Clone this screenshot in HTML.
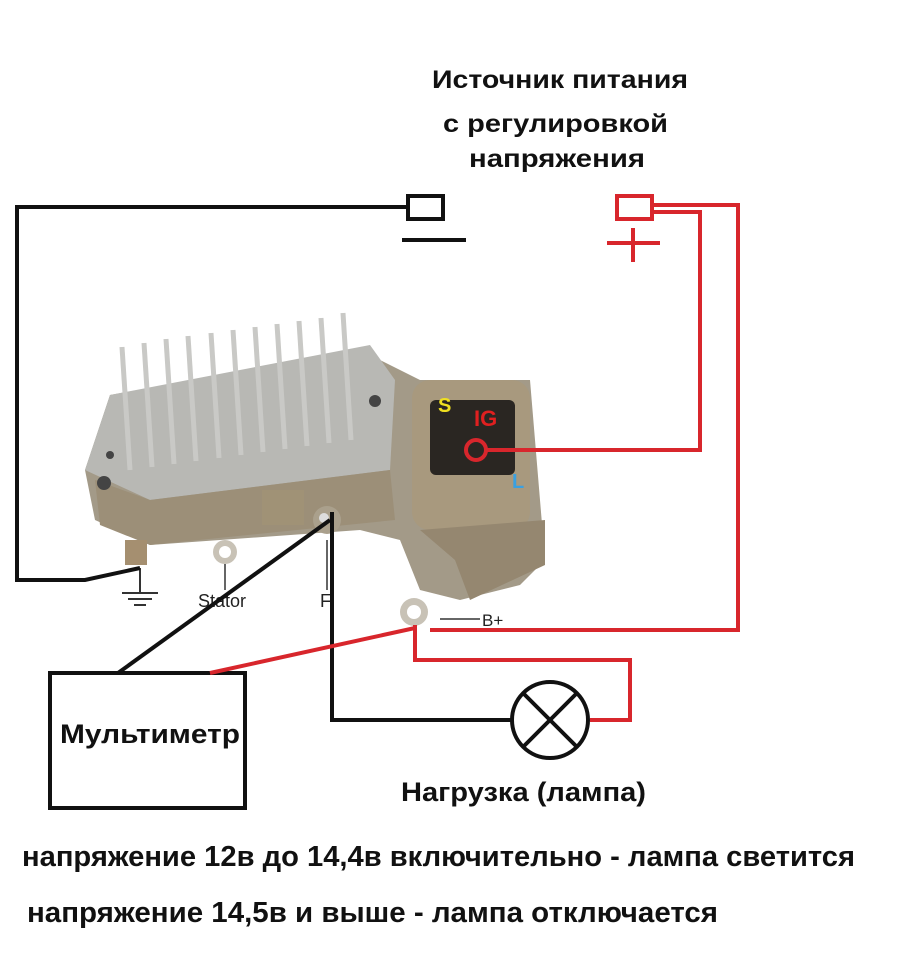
<!DOCTYPE html>
<html><head><meta charset="utf-8"><style>html,body{margin:0;padding:0;background:#fff}svg{display:block}</style></head>
<body>
<svg width="900" height="954" viewBox="0 0 900 954" xmlns="http://www.w3.org/2000/svg" font-family="Liberation Sans, sans-serif" font-weight="bold">
<rect width="900" height="954" fill="#fff"/>
<!-- regulator body -->
<polygon points="85,470 110,395 360,350 400,370 420,380 530,380 545,560 520,585 460,600 420,590 400,540 360,530 150,545 95,520" fill="#a39a88"/>
<polygon points="85,470 110,395 370,345 395,380 390,470 150,500" fill="#b8b8b4"/>
<polygon points="95,480 150,500 390,470 395,520 150,545 100,525" fill="#9c8f78"/>
<g stroke="#c9c9c6" stroke-width="5">
<line x1="122" y1="347" x2="130" y2="470"/><line x1="144" y1="343" x2="152" y2="467"/><line x1="166" y1="339" x2="174" y2="464"/><line x1="188" y1="336" x2="196" y2="461"/><line x1="211" y1="333" x2="219" y2="458"/><line x1="233" y1="330" x2="241" y2="455"/><line x1="255" y1="327" x2="263" y2="452"/><line x1="277" y1="324" x2="285" y2="449"/><line x1="299" y1="321" x2="307" y2="446"/><line x1="321" y1="318" x2="329" y2="443"/><line x1="343" y1="313" x2="351" y2="440"/>
</g>
<g fill="#444"><circle cx="104" cy="483" r="7"/><circle cx="375" cy="401" r="6"/><circle cx="110" cy="455" r="4"/></g>
<rect x="412" y="380" width="118" height="150" rx="18" fill="#a8997e"/>
<rect x="430" y="400" width="85" height="75" rx="6" fill="#2a2622"/>
<polygon points="420,530 545,520 545,565 470,600 455,560" fill="#958770"/>
<rect x="262" y="490" width="42" height="35" fill="#a09276"/>
<circle cx="327" cy="520" r="14" fill="#aaa08c"/><circle cx="324" cy="518" r="5" fill="#ddd"/>
<circle cx="225" cy="552" r="12" fill="#c8c2b6"/><circle cx="225" cy="552" r="6" fill="#fff"/>
<circle cx="414" cy="612" r="14" fill="#c8c2b6"/><circle cx="414" cy="612" r="7" fill="#fff"/>
<rect x="125" y="540" width="22" height="25" fill="#a58f70"/>
<text x="438" y="412" font-size="20" fill="#f0e020">S</text>
<text x="474" y="426" font-size="22" fill="#e02020">IG</text>
<text x="512" y="488" font-size="20" fill="#3aa0e0">L</text>
<text x="198" y="607" font-size="18" font-weight="normal" fill="#222">Stator</text>
<text x="320" y="607" font-size="18" font-weight="normal" fill="#222">F</text>
<text x="482" y="626" font-size="17" font-weight="normal" fill="#222">B+</text>
<line x1="440" y1="619" x2="480" y2="619" stroke="#666" stroke-width="2"/>
<line x1="225" y1="564" x2="225" y2="590" stroke="#666" stroke-width="2"/>
<line x1="327" y1="540" x2="327" y2="590" stroke="#666" stroke-width="2"/>
<g stroke="#333" stroke-width="2"><line x1="140" y1="568" x2="140" y2="592"/><line x1="122" y1="593" x2="158" y2="593"/><line x1="128" y1="599" x2="152" y2="599"/><line x1="134" y1="605" x2="146" y2="605"/></g>
<g fill="none" stroke="#111" stroke-width="4">
<polyline points="408,207 17,207 17,580 85,580 140,568"/>
<rect x="408" y="196" width="35" height="23"/>
<line x1="402" y1="240" x2="466" y2="240"/>
<polyline points="332,512 332,720 512,720"/>
<line x1="330" y1="520" x2="118" y2="673"/>
<rect x="50" y="673" width="195" height="135"/>
<circle cx="550" cy="720" r="38"/>
<line x1="523" y1="693" x2="577" y2="747"/><line x1="577" y1="693" x2="523" y2="747"/>
</g>
<g fill="none" stroke="#d8262c" stroke-width="4">
<rect x="617" y="196" width="35" height="23"/>
<line x1="607" y1="243" x2="660" y2="243"/><line x1="633" y1="228" x2="633" y2="262"/>
<polyline points="652,205 738,205 738,630 430,630"/>
<polyline points="652,212 700,212 700,450 486,450"/>
<circle cx="476" cy="450" r="10"/>
<polyline points="415,625 415,660 630,660 630,720 590,720"/>
<line x1="210" y1="673" x2="415" y2="628"/>
</g>
<g fill="#111">
<text x="432" y="88" font-size="25" textLength="256" lengthAdjust="spacingAndGlyphs">Источник питания</text>
<text x="443" y="132" font-size="25" textLength="225" lengthAdjust="spacingAndGlyphs">с регулировкой</text>
<text x="469" y="167" font-size="25" textLength="176" lengthAdjust="spacingAndGlyphs">напряжения</text>
<text x="60" y="743" font-size="27" textLength="180" lengthAdjust="spacingAndGlyphs">Мультиметр</text>
<text x="401" y="801" font-size="27" textLength="245" lengthAdjust="spacingAndGlyphs">Нагрузка (лампа)</text>
<text x="22" y="866" font-size="29" textLength="833" lengthAdjust="spacingAndGlyphs">напряжение 12в до 14,4в включительно -  лампа светится</text>
<text x="27" y="922" font-size="29" textLength="691" lengthAdjust="spacingAndGlyphs">напряжение 14,5в  и выше - лампа отключается</text>
</g>
</svg>
</body></html>
